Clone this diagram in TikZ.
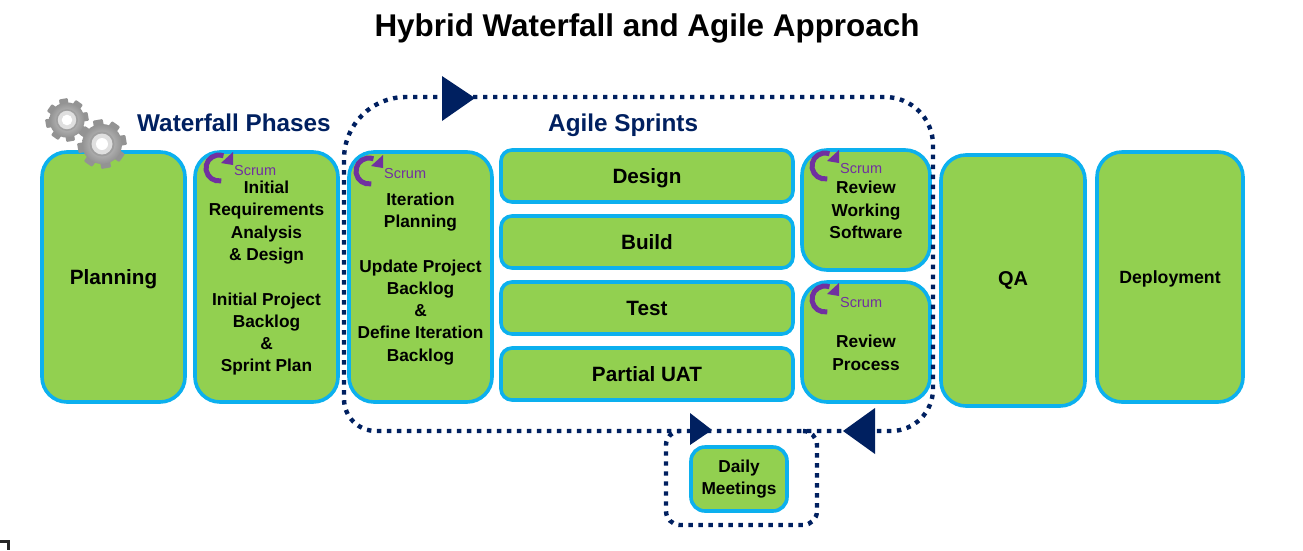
\documentclass[tikz,border=0pt]{standalone}
\usepackage{fontspec}
\setmainfont{Liberation Sans}
\definecolor{boxgreen}{HTML}{92D050}
\definecolor{boxblue}{HTML}{0CB0EE}
\definecolor{navy}{HTML}{002060}
\definecolor{scrumpurple}{HTML}{7030A0}
\newcommand{\fs}[1]{\fontsize{#1}{22.3}\selectfont\bfseries}
\newcommand{\nd}[1]{\raisebox{0pt}[\height][0pt]{#1}}
\tikzset{
  x=1pt,y=-1pt,
  phase/.style={draw=boxblue,line width=3.6pt,fill=boxgreen,rounded corners=25pt,align=center,inner sep=0pt,text=black,font=\fs{17.3}},
  sprint/.style={phase,rounded corners=11pt,font=\fs{20.7}},
  loopline/.style={draw=navy,line width=4.4pt,dash pattern=on 4.4pt off 5.6pt},
  tip/.style={fill=navy,draw=none},
  scrumlabel/.style={text=scrumpurple,font=\fontsize{14.5}{15}\selectfont,inner sep=0pt,anchor=west},
  heading/.style={text=navy,font=\fs{24.3},inner sep=0pt},
  pics/scrumicon/.style={code={
    \draw[scrumpurple,line width=5pt] (0,0) ++(80:13) arc[start angle=80,end angle=290,radius=13];
    \fill[scrumpurple] (14,-16) -- (14,-3) -- (2,-5) -- cycle;
  }},
  pics/gear/.style={code={
    \foreach \a in {0,45,...,315}{
      \fill[rotate=\a+10,gray!85,rounded corners=1pt] (-.2*#1,-.98*#1) rectangle (.2*#1,0);
    }
    \shade[inner color=gray!35,outer color=gray!85] (0,0) circle[radius=.8*#1];
    \fill[gray!75] (0,0) circle[radius=.5*#1];
    \fill[gray!25] (0,0) circle[radius=.42*#1];
    \fill[white] (0,0) circle[radius=.24*#1];
  }},
}
\begin{document}
\begin{tikzpicture}
\useasboundingbox (0,0) rectangle (1303,550);
\fill[white] (0,0) rectangle (1303,550);
\node[inner sep=0pt,font=\fs{31.4}] (title) at (647,25) {\nd{Hybrid Waterfall and Agile Approach}};

\node[phase,minimum width=143pt,minimum height=250pt,font=\fs{20.7}] (planning) at (113.5,277) {\nd{Planning}};
\node[phase,minimum width=143pt,minimum height=250pt] (req) at (266.5,277) {\rule{0pt}{15pt}Initial\\Requirements\\Analysis\\\& Design\\\mbox{}\\Initial Project\\Backlog\\\&\\Sprint Plan};
\node[phase,minimum width=143pt,minimum height=250pt] (iter) at (420.5,277) {\rule{0pt}{16pt}Iteration\\Planning\\\mbox{}\\Update Project\\Backlog\\\&\\Define Iteration\\Backlog};
\node[sprint,minimum width=292pt,minimum height=52pt] (design) at (647,176) {\nd{Design}};
\node[sprint,minimum width=292pt,minimum height=52pt] (build) at (647,242) {Build};
\node[sprint,minimum width=292pt,minimum height=52pt] (test) at (647,308) {Test};
\node[sprint,minimum width=292pt,minimum height=52pt] (uat) at (647,374) {Partial UAT};
\node[phase,minimum width=128pt,minimum height=120pt] (review) at (866,210) {Review\\Working\\Software};
\node[phase,minimum width=128pt,minimum height=120pt] (process) at (866,342) {\mbox{}\\[12pt]Review\\Process};
\node[phase,minimum width=144pt,minimum height=251pt,font=\fs{20}] (qa) at (1013,280.5) {QA};
\node[phase,minimum width=146pt,minimum height=250pt,font=\fs{17.7}] (deploy) at (1170,277) {\nd{Deployment}};
\node[phase,rounded corners=14pt,minimum width=96pt,minimum height=64pt] (daily) at (739,479) {Daily\\Meetings};

\pic at (67,120) {gear=22};
\pic at (102,144) {gear=25};

\node[heading,anchor=west] (wf) at (137,123) {Waterfall Phases};
\node[heading,anchor=west] (as) at (548,125) {Agile Sprints};

\pic at (219,168) {scrumicon};
\node[scrumlabel] (s1) at (234,171) {Scrum};
\pic at (369,171) {scrumicon};
\node[scrumlabel] (s2) at (384,174) {Scrum};
\pic at (825,166) {scrumicon};
\node[scrumlabel] (s3) at (840,169) {Scrum};
\pic at (825,299) {scrumicon};
\node[scrumlabel] (s4) at (840,302) {Scrum};

% dotted loops
\coordinate (tl) at (344,97);
\coordinate (tr) at (933,97);
\coordinate (br) at (933,431);
\coordinate (bl) at (344,431);
\coordinate (dtl) at (666,431);
\coordinate (dtr) at (817,431);
\coordinate (dbr) at (817,525);
\coordinate (dbl) at (666,525);
\coordinate (dstart) at (803,431);
\coordinate (dend) at (680,431);
\coordinate (lstart) at (640,97);
\draw[loopline] (lstart) [rounded corners=48pt] -- (tr) [rounded corners=42pt] -- (br) [rounded corners=32pt] -- (bl) [rounded corners=62pt] -- (tl) -- (lstart);
\draw[loopline,rounded corners=14pt] (dstart) -- (dtr) -- (dbr) -- (dbl) -- (dtl) -- (dend);

% arrowheads
\fill[tip] (442,76) -- (475,98) -- (442,121) -- cycle;
\fill[tip] (690,413) -- (712,430) -- (690,445) -- cycle;
\fill[tip] (875,408) -- (843,431) -- (875,454) -- cycle;

% corner mark
\draw[black!85,line width=3pt] (0,541.5) -- (8.5,541.5) -- (8.5,550);
\end{tikzpicture}
\end{document}
